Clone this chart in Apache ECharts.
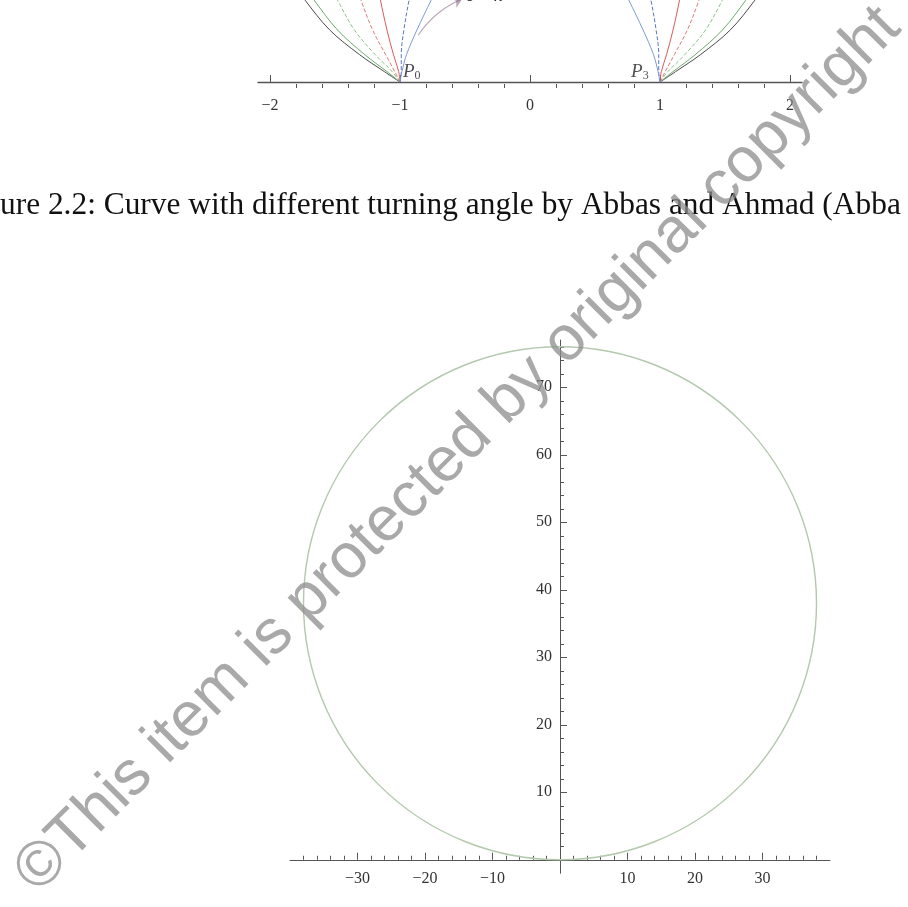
<!DOCTYPE html>
<html>
<head>
<meta charset="utf-8">
<script src="https://cdn.jsdelivr.net/npm/echarts@6/dist/echarts.min.js"></script>
<style>html,body{margin:0;padding:0;background:#fff;}#c{width:908px;height:907px;}</style>
</head>
<body>
<div id="c"></div>
<script>
// ---- top (partial) figure: curves through P0 and P3 ----
const topMajorTicks = [-2, -1, 0, 1, 2];
const topMinorTicks = [-1.8,-1.6,-1.4,-1.2,-0.8,-0.6,-0.4,-0.2,0.2,0.4,0.6,0.8,1.2,1.4,1.6,1.8];
const curveLevels = [0, 0.08, 0.21, 0.40, 0.63, 0.75];
const leftBlack      = [-1, -1.12, -1.31, -1.54, -1.73, -1.81];
const leftGreen      = [-1, -1.10, -1.27, -1.48, -1.66, -1.74];
const leftGreenDash  = [-1, -1.06, -1.19, -1.35, -1.48, -1.54];
const leftRedDash    = [-1, -1.04, -1.11, -1.21, -1.30, -1.34];
const leftRed        = [-1, -1.01, -1.05, -1.10, -1.15, -1.17];
const leftBlueDash   = [-1, -0.99, -0.99, -0.97, -0.93, -0.90];
const leftBlue       = [-1, -0.985, -0.95, -0.87, -0.76, -0.70];
const rightBlack     = [1, 1.12, 1.31, 1.54, 1.73, 1.81];
const rightGreen     = [1, 1.10, 1.27, 1.48, 1.66, 1.74];
const rightGreenDash = [1, 1.06, 1.19, 1.35, 1.48, 1.54];
const rightRedDash   = [1, 1.04, 1.11, 1.21, 1.30, 1.34];
const rightRed       = [1, 1.01, 1.05, 1.10, 1.15, 1.17];
const rightBlueDash  = [1, 0.99, 0.99, 0.97, 0.93, 0.90];
const rightBlue      = [1, 0.985, 0.95, 0.87, 0.76, 0.70];
const arrowFrom = [-0.86, 0.36];
const arrowTo = [-0.52, 0.64];
const pointNames = ['P0', 'P3'];
const pointXs = [-1, 1];
const pointYs = [0, 0];

// ---- main figure: circle ----
const mainXMajor = [-30, -20, -10, 10, 20, 30];
const mainXMinor = [-38,-36,-34,-32,-28,-26,-24,-22,-18,-16,-14,-12,-8,-6,-4,-2,2,4,6,8,12,14,16,18,22,24,26,28,32,34,36,38];
const mainYMajor = [10, 20, 30, 40, 50, 60, 70];
const mainYMinor = [2,4,6,8,12,14,16,18,22,24,26,28,32,34,36,38,42,44,46,48,52,54,56,58,62,64,66,68,72,74,76];
const circleCenterX = 0;
const circleCenterY = 38;
const circleRadius = 38;

const captionText = 'ure 2.2: Curve with different turning angle by Abbas and Ahmad (Abba';
const watermarkText = '\u00A9This item is protected by original copyright';

const serif = '"Liberation Serif", "DejaVu Serif", serif';
const axisColor = '#555';
const minusFmt = v => String(v).replace('-', '\u2212');

const curveStyles = [
  [leftBlack, '#4a4a4a', 'solid'], [leftGreen, '#6aa86a', 'solid'], [leftGreenDash, '#8cc48c', 'dashed'],
  [leftRedDash, '#e07a7a', 'dashed'], [leftRed, '#d85a5a', 'solid'], [leftBlueDash, '#5a78c4', 'dashed'],
  [leftBlue, '#7e9ad6', 'solid'],
  [rightBlack, '#4a4a4a', 'solid'], [rightGreen, '#6aa86a', 'solid'], [rightGreenDash, '#8cc48c', 'dashed'],
  [rightRedDash, '#e07a7a', 'dashed'], [rightRed, '#d85a5a', 'solid'], [rightBlueDash, '#5a78c4', 'dashed'],
  [rightBlue, '#7e9ad6', 'solid']
];

const series = curveStyles.map(([xs, color, type]) => ({
  type: 'line', xAxisIndex: 0, yAxisIndex: 0, smooth: 0.35, showSymbol: false, clip: true,
  data: xs.map((x, i) => [x, curveLevels[i]]),
  lineStyle: { color, width: 1, type }, silent: true, z: 2
}));

series.push({
  type: 'lines', coordinateSystem: 'cartesian2d', xAxisIndex: 0, yAxisIndex: 0,
  data: [{ coords: [arrowFrom, arrowTo] }],
  symbol: ['none', 'arrow'], symbolSize: 9,
  lineStyle: { color: '#7a5478', width: 1.2, curveness: 0.15 }, z: 3
});

series.push({
  type: 'scatter', xAxisIndex: 0, yAxisIndex: 0, symbolSize: 0, clip: false,
  data: pointNames.map((n, i) => ({
    value: [pointXs[i], pointYs[i]], name: n,
    label: { position: i === 0 ? [3, -20] : [-29, -20] }
  })),
  label: {
    show: true,
    formatter: p => '{i|P}{s|' + p.name.slice(1) + '}',
    rich: {
      i: { fontFamily: serif, fontStyle: 'italic', fontSize: 19, color: '#222' },
      s: { fontFamily: serif, fontSize: 12, color: '#222', padding: [8, 0, 0, 0] }
    }
  }
});

series.push({
  type: 'custom', xAxisIndex: 2, yAxisIndex: 1,
  data: [[circleCenterX, circleCenterY, circleRadius]],
  renderItem: (params, api) => {
    const c = api.coord([api.value(0), api.value(1)]);
    const r = api.size([api.value(2), api.value(2)]);
    return { type: 'circle', shape: { cx: c[0], cy: c[1], r: (r[0] + r[1]) / 2 },
      style: { fill: 'none', stroke: '#b3c8ad', lineWidth: 1.4 } };
  },
  clip: false, silent: true, z: 2
});

const chart = echarts.init(document.getElementById('c'), null, { renderer: 'canvas' });
chart.setOption({
  backgroundColor: '#fff',
  animation: false,
  grid: [
    { left: 258, width: 544, top: 0, height: 88 },
    { left: 290, width: 540, top: 340, height: 533.25 }
  ],
  xAxis: [
    { gridIndex: 0, type: 'value', min: -2.092, max: 2.092, position: 'bottom',
      axisLine: { show: true, lineStyle: { color: axisColor, width: 1.3 } },
      axisTick: { show: true, inside: true, length: 7, customValues: topMajorTicks, lineStyle: { color: axisColor } },
      axisLabel: { show: true, customValues: topMajorTicks, formatter: minusFmt, fontFamily: serif, fontSize: 16, color: '#333', margin: 10 },
      splitLine: { show: false } },
    { gridIndex: 0, type: 'value', min: -2.092, max: 2.092, position: 'bottom',
      axisLine: { show: false },
      axisTick: { show: true, inside: true, length: 4, customValues: topMinorTicks, lineStyle: { color: axisColor } },
      axisLabel: { show: false }, splitLine: { show: false } },
    { gridIndex: 1, type: 'value', min: -40, max: 40, position: 'bottom', offset: -13.5,
      axisLine: { show: true, onZero: false, lineStyle: { color: axisColor, width: 1 } },
      axisTick: { show: true, inside: true, length: 7, customValues: mainXMajor, lineStyle: { color: axisColor } },
      axisLabel: { show: true, customValues: mainXMajor, formatter: minusFmt, fontFamily: serif, fontSize: 16, color: '#333', margin: 11 },
      splitLine: { show: false } },
    { gridIndex: 1, type: 'value', min: -40, max: 40, position: 'bottom', offset: -13.5,
      axisLine: { show: false, onZero: false },
      axisTick: { show: true, inside: true, length: 4, customValues: mainXMinor, lineStyle: { color: axisColor } },
      axisLabel: { show: false }, splitLine: { show: false } }
  ],
  yAxis: [
    { gridIndex: 0, type: 'value', min: -0.046, max: 0.631, show: false },
    { gridIndex: 1, type: 'value', min: -2, max: 77, position: 'left', offset: -270,
      axisLine: { show: true, onZero: false, lineStyle: { color: axisColor, width: 1 } },
      axisTick: { show: true, inside: true, length: 7, customValues: mainYMajor, lineStyle: { color: axisColor } },
      axisLabel: { show: true, customValues: mainYMajor, fontFamily: serif, fontSize: 16, color: '#333', margin: 8 },
      splitLine: { show: false } },
    { gridIndex: 1, type: 'value', min: -2, max: 77, position: 'left', offset: -270,
      axisLine: { show: false, onZero: false },
      axisTick: { show: true, inside: true, length: 4, customValues: mainYMinor, lineStyle: { color: axisColor } },
      axisLabel: { show: false }, splitLine: { show: false } }
  ],
  graphic: [
    { type: 'text', left: 466, top: -12, z: 5,
      style: { text: '\u03D1 = \u03C0', font: 'italic 17px ' + serif, fill: '#222' } },
    { type: 'text', x: 0, y: 206, z: 5,
      style: { text: captionText, font: '31.4px ' + serif, fill: '#111', textVerticalAlign: 'middle' } },
    { type: 'text', x: 458, y: 450, rotation: Math.PI / 4, z: 100,
      style: { text: watermarkText, font: '63px "Liberation Sans", Arial, sans-serif',
        fill: 'rgba(140,140,140,0.75)', textAlign: 'center', textVerticalAlign: 'middle' } }
  ],
  series
});
</script>
</body>
</html>
